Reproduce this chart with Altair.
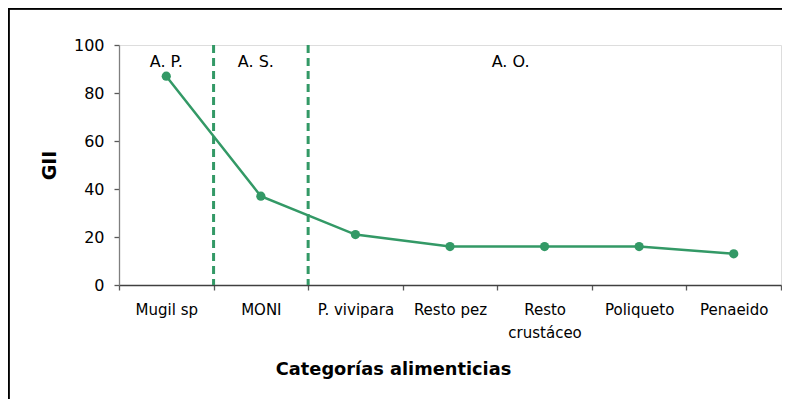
import altair as alt
import pandas as pd

categories = ["Mugil sp", "MONI", "P. vivipara", "Resto pez", "Resto crustáceo", "Poliqueto", "Penaeido"]
gii = [87, 37, 21, 16, 16, 16, 13]

dividers = ["MONI", "P. vivipara"]

section_labels = ["A. P.", "A. S.", "A. O."]
section_cats = ["Mugil sp", "MONI", "Resto crustáceo"]
section_dx = [0, -5, -34]
section_y = [93, 93, 93]

GREEN = "#339966"
FONT = "DejaVu Sans"

df = pd.DataFrame({"cat": categories, "gii": gii})
div_df = pd.DataFrame({"cat": dividers})

xscale = alt.Scale(type="band", domain=categories, paddingInner=0, paddingOuter=0)
yscale = alt.Scale(domain=[0, 100], nice=False)

x_axis = alt.Axis(
    title="Categorías alimenticias",
    titleFont=FONT, titleFontSize=17.8, titleFontWeight="bold", titleColor="black",
    titleX=274, titleY=89, titleAnchor="start", titleAlign="center", titleBaseline="alphabetic",
    labelFont=FONT, labelFontSize=15, labelColor="black", labelAngle=0,
    labelAlign="center", labelBaseline="top", bandPosition=0.5,
    labelPadding=12, labelLineHeight=23,
    labelExpr="datum.value == 'Resto crustáceo' ? ['Resto', 'crustáceo'] : datum.value",
    tickBand="extent", ticks=True, tickSize=5, tickColor="#595959", tickWidth=1.3,
    domainColor="#404040", domainWidth=1.3, grid=False,
)

y_axis = alt.Axis(
    title="GII",
    titleFont=FONT, titleFontSize=19, titleFontWeight="bold", titleColor="black",
    titlePadding=14,
    labelFont=FONT, labelFontSize=16, labelColor="black", labelPadding=10,
    values=[0, 20, 40, 60, 80, 100],
    tickSize=5, tickColor="#595959", tickWidth=1.3,
    domainColor="#7f7f7f", domainWidth=1.3, grid=False,
)

base = alt.Chart(df)

line = base.mark_line(color=GREEN, strokeWidth=2.5).encode(
    x=alt.X("cat:N", scale=xscale, axis=x_axis, sort=categories, bandPosition=0.5),
    y=alt.Y("gii:Q", scale=yscale, axis=y_axis),
)

points = base.mark_point(filled=True, color=GREEN, size=85, opacity=1).encode(
    x=alt.X("cat:N", scale=xscale, sort=categories, bandPosition=0.5),
    y=alt.Y("gii:Q", scale=yscale),
)

div_rules = alt.Chart(div_df).mark_rule(color=GREEN, strokeWidth=3, strokeDash=[8, 5]).encode(
    x=alt.X("cat:N", scale=xscale, sort=categories, bandPosition=0),
    y=alt.value(0),
    y2=alt.value(240),
)

label_layers = []
for lab, cat, dx, yv in zip(section_labels, section_cats, section_dx, section_y):
    ldf = pd.DataFrame({"cat": [cat], "lab": [lab], "y": [yv]})
    label_layers.append(
        alt.Chart(ldf).mark_text(font=FONT, fontSize=16, color="black", dx=dx, baseline="middle").encode(
            x=alt.X("cat:N", scale=xscale, sort=categories, bandPosition=0.5),
            y=alt.Y("y:Q", scale=yscale),
            text="lab:N",
        )
    )

frame_top = alt.Chart(df).mark_rule(color="black", strokeWidth=1.5).encode(
    x=alt.value(-111), x2=alt.value(672), y=alt.value(-36.5)
)
frame_left = alt.Chart(df).mark_rule(color="black", strokeWidth=1.5).encode(
    x=alt.value(-110.5), y=alt.value(-37), y2=alt.value(400)
)

chart = alt.layer(frame_top, frame_left, div_rules, line, points, *label_layers).properties(
    width=662, height=240,
    autosize=alt.AutoSizeParams(type="none"),
    padding={"left": 111, "top": 37, "right": 1, "bottom": 114},
).configure_view(stroke=None).configure(background="white")

chart.save("out.html", embed_options={"renderer": "svg", "actions": False})
